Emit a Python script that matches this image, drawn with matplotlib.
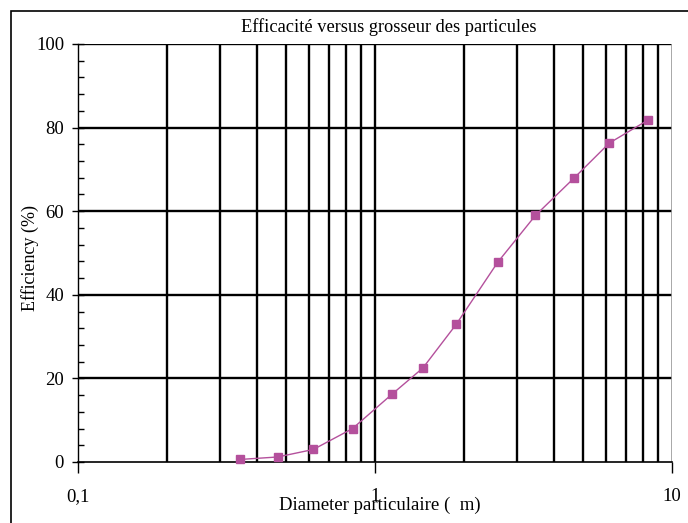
import numpy as np
import matplotlib.pyplot as plt
from matplotlib.patches import Rectangle
from matplotlib.ticker import FixedLocator, NullFormatter

plt.rcParams['font.family'] = ['Liberation Serif', 'DejaVu Serif']

diameter = [0.35, 0.47, 0.62, 0.84, 1.14, 1.45, 1.88, 2.59, 3.47, 4.69, 6.15, 8.3]
efficiency = [0.6, 1.2, 3.0, 8.0, 16.2, 22.5, 33.0, 47.8, 59.0, 68.0, 76.3, 81.8]

x_ticks = [0.1, 1, 10]
x_labels = ["0,1", "1", "10"]
y_ticks = [0, 20, 40, 60, 80, 100]

fig = plt.figure(figsize=(6.88, 5.23), dpi=100)
ax = fig.add_axes([78/688, 1 - 462/523, (672 - 78)/688, (462 - 44)/523])

ax.set_xscale("log")
ax.set_xlim(0.1, 10)
ax.set_ylim(0, 100)

# vertical grid at every 1..9 of each decade
minor = [m * d for d in [0.1, 1] for m in range(2, 10)]
for v in minor + [1]:
    ax.axvline(v, color="black", lw=1.7, zorder=1)
for v in y_ticks[1:]:
    ax.axhline(v, color="black", lw=1.7, zorder=1)
ax.axvline(10, color="#999999", lw=1.2, zorder=1)

ax.plot(diameter, efficiency, color="#B4509C", lw=1, marker="s", ms=6,
        markeredgecolor="#B4509C", zorder=3, clip_on=False)

ax.set_xticks(x_ticks)
ax.set_xticklabels(x_labels)
ax.xaxis.set_minor_locator(FixedLocator([]))
ax.xaxis.set_minor_formatter(NullFormatter())
ax.set_yticks(y_ticks)
ax.yaxis.set_minor_locator(FixedLocator([v for v in range(0, 101, 4) if v % 20]))
ax.tick_params(axis="x", which="major", direction="out", length=8, width=1,
               labelsize=13.5, pad=11)
ax.tick_params(axis="y", which="major", direction="inout", length=8, width=1,
               labelsize=13.5, pad=6)
ax.tick_params(axis="y", which="minor", direction="in", length=4, width=1)

for s in ["top", "right"]:
    ax.spines[s].set_visible(False)
ax.spines["left"].set_linewidth(1)
ax.spines["bottom"].set_linewidth(1.2)

ax.set_title("Efficacité versus grosseur des particules", fontsize=13.2,
             x=(389 - 78) / 594, pad=9)
ax.set_xlabel("Diameter particulaire (  m)", fontsize=13.5)
ax.xaxis.set_label_coords((380 - 78) / 594, -0.084)
ax.set_ylabel("Efficiency (%)", fontsize=13, va="center")
ax.yaxis.set_label_coords((30 - 78) / 594, (462 - 258) / 418)

fig.patches.append(Rectangle((11/688, -0.1), 1.2, 1 - 11/523 + 0.1,
                             transform=fig.transFigure, fill=False,
                             edgecolor="black", lw=1.2))

fig.savefig("out.png", dpi=100)
